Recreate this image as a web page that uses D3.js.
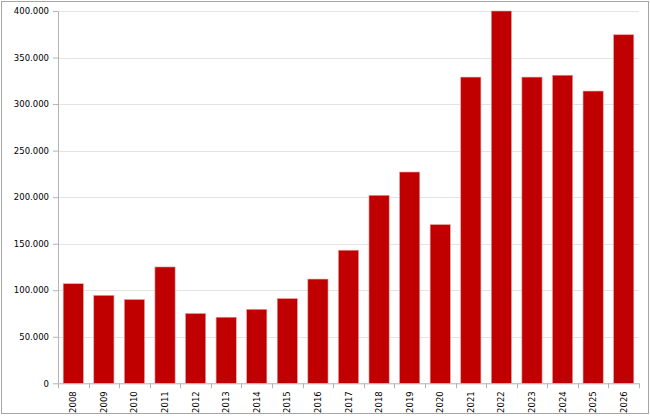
<!DOCTYPE html>
<html>
<head>
<meta charset="utf-8">
<script src="https://cdn.jsdelivr.net/npm/d3@7"></script>
<style>
  body { margin: 0; background: #fff; }
  svg text { font-family: "DejaVu Sans", Verdana, sans-serif; font-size: 8.5px; fill: #000; }
</style>
</head>
<body>
<div id="chart"></div>
<script>
// data
const years = ["2008","2009","2010","2011","2012","2013","2014","2015","2016","2017",
  "2018","2019","2020","2021","2022","2023","2024","2025","2026"];
const values = [107000, 94500, 90000, 125000, 75000, 71000, 79500, 91000, 112000, 143000,
  202000, 227000, 170500, 329000, 400000, 329000, 331000, 314000, 374500];
const yTicks = [0, 50000, 100000, 150000, 200000, 250000, 300000, 350000, 400000];

const width = 650,
  height = 418,
  margin = { top: 11, right: 11, bottom: 35, left: 58 };

const svg = d3.select("#chart")
  .append("svg")
  .attr("width", width)
  .attr("height", height);

// outer frame
svg.append("rect")
  .attr("x", 1.5).attr("y", 1.5)
  .attr("width", width - 3).attr("height", height - 6)
  .attr("fill", "#fff")
  .attr("stroke", "#a6a6a6");

const g = svg.append("g")
  .attr("transform", `translate(${margin.left},${margin.top})`);

const innerW = 639 - margin.left,
  innerH = 383.3 - margin.top;

const x = d3.scaleBand().domain(years).range([0, innerW]).paddingInner(0.34).paddingOuter(0.17);
const y = d3.scaleLinear().domain([0, 400000]).range([innerH, 0]);

const fmt = d => d3.format(",")(d).replace(/,/g, ".");

// gridlines
g.append("g")
  .selectAll("line")
  .data(yTicks.filter(d => d > 0))
  .enter()
  .append("line")
  .attr("x1", 0).attr("x2", innerW)
  .attr("y1", d => Math.round(y(d)) + 0.5)
  .attr("y2", d => Math.round(y(d)) + 0.5)
  .attr("stroke", "#e3e3e3");

// y axis
const yAxis = g.append("g")
  .call(d3.axisLeft(y).tickValues(yTicks).tickFormat(fmt).tickSize(5).tickSizeOuter(0).tickPadding(4));
yAxis.select(".domain").attr("stroke", "#b3b3b3");
yAxis.selectAll(".tick line").attr("stroke", "#b3b3b3");

// bars
g.selectAll(".bar")
  .data(values)
  .enter()
  .append("rect")
  .attr("class", "bar")
  .attr("x", (d, i) => x(years[i]))
  .attr("y", d => y(d))
  .attr("width", x.bandwidth())
  .attr("height", d => innerH - y(d))
  .attr("fill", "#c00000")
  .attr("stroke", "#e8a0a0")
  .attr("stroke-width", 0.6);

// x axis: ticks between categories
const xa = g.append("g").attr("transform", `translate(0,${innerH})`);
xa.append("line")
  .attr("x1", 0).attr("x2", innerW)
  .attr("y1", 0.5).attr("y2", 0.5)
  .attr("stroke", "#b3b3b3");
xa.selectAll(".xt")
  .data(d3.range(years.length + 1))
  .enter()
  .append("line")
  .attr("class", "xt")
  .attr("x1", i => Math.round(i * x.step()) + 0.5)
  .attr("x2", i => Math.round(i * x.step()) + 0.5)
  .attr("y1", 0).attr("y2", 5)
  .attr("stroke", "#b3b3b3");
xa.selectAll(".xl")
  .data(years)
  .enter()
  .append("text")
  .attr("class", "xl")
  .attr("transform", d => `translate(${x(d) + x.bandwidth() / 2 + 3},8) rotate(-90)`)
  .attr("text-anchor", "end")
  .text(d => d);
</script>
</body>
</html>
